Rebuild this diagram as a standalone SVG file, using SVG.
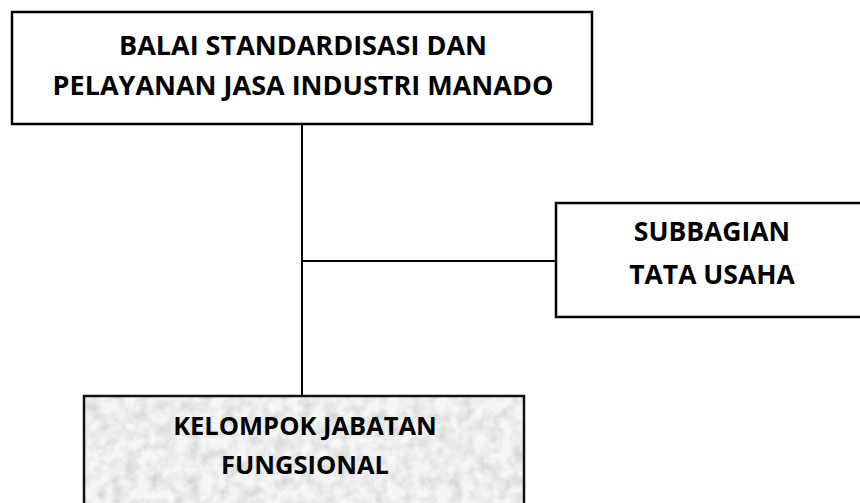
<svg xmlns="http://www.w3.org/2000/svg" width="860" height="503" viewBox="0 0 860 503">
<style>
.box{fill:#fff;stroke:#000;stroke-width:2.5}
.lbl{font-family:"Open Sans","Noto Sans",sans-serif;font-weight:bold;fill:#000;text-anchor:middle}
.big{font-size:27px}
.mid{font-size:26.5px}
.sm{font-size:25.5px}
.conn{stroke:#000;stroke-width:2;fill:none}
</style>
<defs>
<filter id="granite" x="0" y="0" width="1" height="1">
<feTurbulence type="fractalNoise" baseFrequency="0.08" numOctaves="3" seed="4" result="n"/>
<feColorMatrix in="n" type="matrix" values="0 0 0 0 0  0 0 0 0 0  0 0 0 0 0  0.9 0 0 0 -0.3" result="a"/>
<feFlood flood-color="#f6f6f6" result="w"/>
<feFlood flood-color="#a8a8a8" result="g"/>
<feComposite in="g" in2="a" operator="in" result="ga"/>
<feMerge><feMergeNode in="w"/><feMergeNode in="ga"/></feMerge>
</filter>
</defs>
<g id="connectors">
<line class="conn" x1="302" y1="124" x2="302" y2="396"/>
<line class="conn" x1="302" y1="261" x2="556" y2="261"/>
</g>
<g id="balai">
<rect class="box" x="12" y="12" width="580" height="112"/>
<text class="lbl big" x="303" y="55">BALAI STANDARDISASI DAN</text>
<text class="lbl big" x="303" y="95">PELAYANAN JASA INDUSTRI MANADO</text>
</g>
<g id="subbagian">
<rect class="box" x="556" y="203" width="314" height="114"/>
<text class="lbl mid" x="712" y="241">SUBBAGIAN</text>
<text class="lbl mid" x="712" y="284">TATA USAHA</text>
</g>
<g id="kelompok">
<rect x="84" y="396" width="440" height="120" filter="url(#granite)"/>
<rect x="84" y="396" width="440" height="120" fill="none" stroke="#111" stroke-width="2.5"/>
<text class="lbl sm" x="305" y="435">KELOMPOK JABATAN</text>
<text class="lbl sm" x="305" y="474">FUNGSIONAL</text>
</g>
</svg>
